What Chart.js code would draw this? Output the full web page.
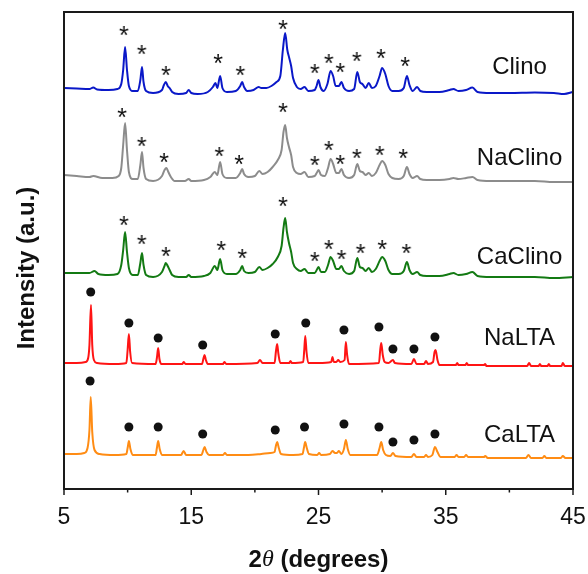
<!DOCTYPE html>
<html>
<head>
<meta charset="utf-8">
<script src="https://cdn.jsdelivr.net/npm/chart.js@4.4.1/dist/chart.umd.min.js"></script>
<style>
  body { margin: 0; background: #fff; }
</style>
</head>
<body>
<canvas id="myChart" width="588" height="574"></canvas>
<script>
// 2theta ticks
const tickValues = [5, 10, 15, 20, 25, 30, 35, 40, 45];
const tickLabels = ['5', '', '15', '', '25', '', '35', '', '45'];

// trace names, colours and vertical offsets (stacked patterns)
const traceNames = ['Clino', 'NaClino', 'CaClino', 'NaLTA', 'CaLTA'];
const traceColors = ['#0a18c8', '#8c8c8c', '#137a13', '#ff1414', '#ff8c14'];
const traceOffsets = [397, 312, 216, 126, 35];
const labelLift = [25, 19, 16, 25, 19];

// intensity above each baseline, [2theta, counts]
const clino = [
  [5.0, 4], [6.0, 3.5], [7.0, 3], [7.3, 4.5], [7.6, 2.5], [8.5, 2], [9.2, 3], [9.5, 8], [9.65, 22], [9.8, 45],
  [9.95, 22], [10.1, 6], [10.4, 1], [10.8, 1], [11.0, 12], [11.13, 25], [11.25, 10], [11.45, 1], [12.0, -1],
  [12.7, 2], [12.85, 7], [13.0, 10], [13.15, 6], [13.3, 4], [13.5, 0], [14.0, -2], [14.6, -1], [14.8, 2],
  [15.0, -1], [15.5, -2], [16.3, 0], [16.7, 5], [16.9, 9], [17.05, 4], [17.27, 16], [17.45, 4], [17.8, 0],
  [18.5, 1], [18.85, 6], [19.0, 10], [19.15, 5], [19.4, 1], [19.9, 2], [20.3, 5], [20.5, 4], [20.9, 4],
  [21.3, 6], [21.7, 10], [22.0, 16], [22.2, 42], [22.38, 59], [22.55, 42], [22.7, 34], [22.85, 26], [23.0, 14],
  [23.3, 5], [23.6, 3], [23.9, 5], [24.2, 1], [24.7, 2], [24.85, 6], [25.0, 12], [25.15, 5], [25.4, 1],
  [25.7, 8], [25.95, 21], [26.15, 16], [26.35, 6], [26.6, 6], [26.8, 10], [27.0, 4], [27.4, 1], [27.8, 3],
  [28.05, 20], [28.25, 10], [28.45, 8], [28.7, 4], [28.95, 9], [29.2, 4], [29.5, 6], [29.8, 16], [30.0, 24],
  [30.25, 18], [30.5, 6], [30.8, 1], [31.3, 1], [31.7, 4], [31.95, 16], [32.15, 7], [32.4, 1], [32.75, 5],
  [33.0, 1], [33.5, 0], [34.5, 0], [35.3, 2], [35.6, 3], [36.0, 1], [36.6, 2], [37.1, 4.5], [37.5, 0],
  [38.5, -1], [40.0, -1], [42.0, -0.5], [43.5, -1], [44.3, -2], [45.0, 0]
];
const naClino = [
  [5.0, 2], [6.0, 1], [7.0, 0], [7.3, 1], [8.0, -1], [8.8, -1], [9.3, 1], [9.5, 9], [9.65, 32], [9.8, 54],
  [9.95, 27], [10.1, 5], [10.4, -2], [10.8, -2], [11.0, 12], [11.13, 25], [11.25, 9], [11.45, -2], [12.0, -4],
  [12.7, 1], [12.9, 7], [13.05, 9], [13.2, 5], [13.4, 0], [13.7, -4], [14.5, -4], [14.8, -2], [15.0, -4],
  [16.0, -3], [16.5, 0], [16.85, 5], [17.05, 2], [17.27, 15], [17.45, 3], [17.8, -1], [18.5, -1], [18.85, 4],
  [19.0, 8], [19.15, 3], [19.5, 0], [20.0, 1], [20.35, 6], [20.6, 3], [21.0, 5], [21.4, 10], [21.8, 17],
  [22.1, 27], [22.25, 45], [22.38, 52], [22.52, 39], [22.68, 30], [22.85, 22], [23.0, 10], [23.3, 4], [23.6, 3],
  [23.9, 5], [24.2, 0], [24.7, 1], [24.9, 5], [25.0, 7], [25.2, 2], [25.5, 1], [25.75, 9], [25.95, 18],
  [26.15, 13], [26.4, 4], [26.6, 4], [26.8, 8], [27.0, 2], [27.4, -1], [27.8, 2], [28.05, 13], [28.25, 6],
  [28.45, 5], [28.7, 2], [28.95, 4], [29.2, 1], [29.5, 4], [29.8, 12], [30.0, 16], [30.25, 12], [30.5, 3],
  [30.8, -1], [31.3, -2], [31.7, 1], [31.95, 10], [32.15, 3], [32.4, -1], [32.75, 1], [33.0, -2], [33.5, -3],
  [34.5, -3], [35.3, -2], [35.6, -1], [36.0, -2], [36.6, -1], [37.1, 0], [37.5, -3], [38.5, -4], [40.0, -4],
  [42.0, -4], [43.5, -5], [45.0, -5]
];
const caClino = [
  [5.0, 0], [6.0, 0], [7.0, 0], [7.4, 2], [7.7, -1], [8.5, -2], [9.2, -1], [9.5, 8], [9.65, 23], [9.8, 41],
  [9.95, 21], [10.1, 5], [10.4, -2], [10.8, -2], [11.0, 10], [11.13, 20], [11.25, 8], [11.45, -2], [12.0, -4],
  [12.7, 1], [12.9, 7], [13.0, 10], [13.15, 7], [13.3, 3], [13.5, -2], [14.0, -4], [14.6, -4], [14.8, -2],
  [15.0, -4], [16.0, -3], [16.5, 0], [16.85, 7], [17.05, 3], [17.27, 14], [17.45, 3], [17.8, -1], [18.5, -1],
  [18.85, 3], [19.0, 7], [19.15, 2], [19.5, 0], [20.0, 1], [20.35, 6], [20.6, 3], [21.0, 5], [21.4, 9],
  [21.8, 16], [22.1, 27], [22.25, 45], [22.38, 55], [22.52, 41], [22.68, 30], [22.85, 21], [23.0, 10], [23.3, 4],
  [23.6, 2], [23.9, 4], [24.2, 0], [24.7, 0], [24.9, 4], [25.0, 6], [25.2, 1], [25.5, 1], [25.75, 8],
  [25.95, 16], [26.15, 12], [26.4, 4], [26.6, 4], [26.8, 7], [27.0, 2], [27.4, -1], [27.8, 2], [28.05, 15],
  [28.25, 6], [28.45, 5], [28.7, 2], [28.95, 5], [29.2, 1], [29.5, 4], [29.8, 12], [30.0, 16], [30.25, 12],
  [30.5, 3], [30.8, -1], [31.3, -1], [31.7, 2], [31.95, 11], [32.15, 3], [32.4, -1], [32.75, 1], [33.0, -2],
  [33.5, -3], [34.5, -3], [35.3, -1], [35.6, 0], [36.0, -2], [36.6, -1], [37.1, 1], [37.5, -3], [38.5, -4],
  [40.0, -4], [42.0, -4], [43.5, -5], [45.0, -4]
];
const naLTA = [
  [5.0, 0], [6.0, 0], [6.7, 1], [6.9, 5], [7.0, 18], [7.12, 58], [7.22, 18], [7.35, 3], [7.6, 0], [9.0, -1],
  [9.9, 0], [10.0, 13], [10.1, 29], [10.2, 11], [10.35, 0], [12.2, -1], [12.3, 5], [12.4, 15], [12.5, 4],
  [12.65, -1], [14.3, -1], [14.4, 1], [14.55, -1], [15.85, -1], [15.95, 4], [16.05, 8], [16.15, 3], [16.3, -1],
  [17.5, -1], [17.6, 1], [17.75, -1], [20.2, 0], [20.4, 3], [20.6, 0], [21.55, 0], [21.65, 11], [21.75, 19],
  [21.85, 9], [22.0, 0], [22.7, 0], [22.8, 2], [22.9, 0], [23.8, 1], [23.88, 13], [23.96, 27], [24.06, 11],
  [24.2, 0], [25.0, 0], [26.0, 1], [26.1, 6], [26.2, 1], [26.4, 1], [26.55, 3], [26.7, 1], [27.05, 3],
  [27.15, 21], [27.25, 8], [27.4, -1], [29.75, 0], [29.85, 13], [29.93, 20], [30.05, 8], [30.2, 1], [30.5, 0],
  [30.85, 3], [31.0, 0], [32.3, -1], [32.5, 4], [32.7, -1], [33.3, -1], [33.45, 2], [33.6, -1], [34.0, 1],
  [34.12, 11], [34.2, 13], [34.35, 3], [34.5, -2], [35.8, -2], [35.9, 0], [36.0, -2], [36.55, -2], [36.65, 0],
  [36.75, -2], [38.0, -2], [38.1, -1], [38.2, -3], [41.4, -3], [41.55, 0], [41.7, -3], [42.3, -3], [42.4, -1],
  [42.5, -3], [43.0, -3], [43.1, -1], [43.2, -3], [44.1, -3], [44.2, 0], [44.35, -3], [45.0, -3]
];
const caLTA = [
  [5.0, 0], [6.0, 0], [6.6, 1], [6.85, 6], [7.0, 24], [7.1, 57], [7.22, 22], [7.4, 4], [7.8, 0], [9.0, -1],
  [9.9, 0], [10.0, 6], [10.1, 13], [10.22, 5], [10.4, -1], [12.2, -1], [12.3, 6], [12.4, 13], [12.52, 5],
  [12.7, -1], [14.2, -1], [14.4, 3], [14.6, -1], [15.8, -1], [15.95, 4], [16.05, 7], [16.2, 2], [16.4, -1],
  [17.5, -1], [17.65, 1], [17.8, -1], [19.5, -1], [20.5, 0], [21.2, 1], [21.55, 2], [21.65, 8], [21.75, 12],
  [21.88, 6], [22.05, 0], [23.0, -1], [23.75, 0], [23.85, 6], [23.95, 12], [24.08, 6], [24.25, 0], [24.9, -1],
  [25.05, 1], [25.2, -1], [25.9, 0], [26.1, 3], [26.3, 1], [26.45, 1], [26.6, 3], [26.8, 0], [27.0, 5],
  [27.15, 14], [27.3, 5], [27.5, -1], [29.6, -1], [29.8, 6], [29.93, 12], [30.08, 4], [30.3, -1], [30.65, -2],
  [30.85, 1], [31.05, -2], [32.3, -3], [32.5, 0], [32.7, -3], [33.3, -3], [33.45, -1], [33.6, -3], [33.95, -1],
  [34.15, 7], [34.35, 2], [34.6, -3], [35.7, -3], [35.85, -1], [36.0, -3], [36.45, -3], [36.6, -1], [36.75, -3],
  [38.0, -3], [38.1, -2], [38.3, -4], [41.3, -4], [41.5, -1], [41.7, -4], [42.6, -4], [42.75, -2], [42.9, -4],
  [44.05, -4], [44.2, -2], [44.4, -4], [45.0, -4]
];
const traces = [clino, naClino, caClino, naLTA, caLTA];

// reflection markers: * clinoptilolite, dots LTA  [2theta, height above baseline]
const clinoStars = [[9.7, 61], [11.1, 42], [13.0, 21], [17.1, 33], [18.85, 21], [22.2, 67], [24.7, 23], [25.8, 33], [26.7, 24], [28.0, 35], [29.9, 38], [31.8, 30]];
const naClinoStars = [[9.55, 64], [11.1, 35], [12.85, 19], [17.2, 25], [18.75, 17], [22.2, 69], [24.7, 16], [25.8, 31], [26.7, 17], [28.0, 23], [29.8, 26], [31.65, 23]];
const caClinoStars = [[9.7, 52], [11.1, 33], [13.0, 21], [17.35, 27], [19.0, 19], [22.2, 71], [24.7, 16], [25.8, 28], [26.8, 18], [28.3, 24], [30.0, 28], [31.9, 24]];
const naLTADots = [[7.1, 71], [10.1, 40], [12.4, 25], [15.9, 18], [21.6, 29], [24.0, 40], [27.0, 33], [29.75, 36], [30.85, 14], [32.5, 14], [34.15, 26]];
const caLTADots = [[7.05, 73], [10.1, 27], [12.4, 27], [15.9, 20], [21.6, 24], [23.9, 27], [27.0, 30], [29.75, 27], [30.85, 12], [32.5, 14], [34.15, 20]];
const markerSets = [clinoStars, naClinoStars, caClinoStars, naLTADots, caLTADots];

function shift(points, off) {
    return points.map(function (p) { return { x: p[0], y: p[1] + off }; });
}

// asterisk glyph used as point style
function makeStar() {
    var c = document.createElement('canvas');
    c.width = 18;
    c.height = 18;
    var g = c.getContext('2d');
    g.font = '25px Arial';
    g.textAlign = 'center';
    g.textBaseline = 'alphabetic';
    var m = g.measureText('*');
    var h = m.actualBoundingBoxAscent + m.actualBoundingBoxDescent;
    g.fillStyle = '#111';
    g.fillText('*', 9, 9 + m.actualBoundingBoxAscent - h / 2);
    return c;
}
const star = makeStar();

const datasets = [];
traces.forEach(function (t, i) {
    datasets.push({
        type: 'line',
        label: traceNames[i],
        data: shift(t, traceOffsets[i]),
        borderColor: traceColors[i],
        borderWidth: 2,
        pointRadius: 0,
        cubicInterpolationMode: 'monotone'
    });
});
markerSets.forEach(function (m, i) {
    datasets.push({
        type: 'scatter',
        label: traceNames[i] + ' peaks',
        data: shift(m, traceOffsets[i]),
        pointStyle: i < 3 ? star : 'circle',
        pointRadius: 4.5,
        backgroundColor: '#111',
        borderWidth: 0
    });
});

// frame, tick marks, trace names and axis titles
const decorations = {
    id: 'decorations',
    afterDatasetsDraw: function (chart) {
        var ctx = chart.ctx;
        var a = chart.chartArea;
        var xs = chart.scales.x;
        var ys = chart.scales.y;
        ctx.save();

        ctx.strokeStyle = '#1a1a1a';
        ctx.lineWidth = 2;
        ctx.strokeRect(a.left, a.top, a.right - a.left, a.bottom - a.top);

        ctx.lineWidth = 1.5;
        tickValues.forEach(function (v, i) {
            var px = xs.getPixelForValue(v);
            var len = tickLabels[i] ? 6 : 3.5;
            ctx.beginPath();
            ctx.moveTo(px, a.bottom);
            ctx.lineTo(px, a.bottom + len);
            ctx.stroke();
        });

        ctx.fillStyle = '#111';
        ctx.font = '24px Arial';
        ctx.textAlign = 'center';
        ctx.textBaseline = 'middle';
        traceNames.forEach(function (n, i) {
            ctx.fillText(n, xs.getPixelForValue(40.8), ys.getPixelForValue(traceOffsets[i] + labelLift[i]));
        });

        // x title: 2θ (degrees)
        var parts = [['2', 'bold 24px Arial'], ['\u03b8', 'italic 24px "Liberation Serif"'], [' (degrees)', 'bold 24px Arial']];
        var total = 0;
        parts.forEach(function (p) { ctx.font = p[1]; p.push(ctx.measureText(p[0]).width); total += p[2]; });
        var x = (a.left + a.right) / 2 - total / 2;
        ctx.textAlign = 'left';
        parts.forEach(function (p) { ctx.font = p[1]; ctx.fillText(p[0], x, 560); x += p[2]; });

        // y title
        ctx.translate(27, 268);
        ctx.rotate(-Math.PI / 2);
        ctx.textAlign = 'center';
        ctx.font = 'bold 24px Arial';
        ctx.fillText('Intensity (a.u.)', 0, 0);
        ctx.restore();
    }
};

const config = {
    data: { datasets: datasets },
    options: {
        responsive: false,
        animation: false,
        devicePixelRatio: 1,
        layout: { padding: { left: 64, right: 15, top: 12, bottom: 0 } },
        plugins: {
            legend: { display: false },
            tooltip: { enabled: false }
        },
        scales: {
            x: {
                type: 'linear',
                min: 5,
                max: 45,
                afterFit: function (s) {
                    s.height = 85;
                    s.paddingLeft = 0;
                    s.paddingRight = 0;
                },
                afterBuildTicks: function (s) { s.ticks = tickValues.map(function (v) { return { value: v }; }); },
                grid: { display: true, drawOnChartArea: false, drawTicks: false },
                border: { display: false },
                ticks: {
                    autoSkip: false,
                    maxRotation: 0,
                    padding: 15,
                    color: '#111',
                    font: { family: 'Arial', size: 23 },
                    callback: function (v) { return tickLabels[tickValues.indexOf(v)]; }
                }
            },
            y: {
                type: 'linear',
                display: false,
                min: 0,
                max: 477
            }
        }
    },
    plugins: [decorations]
};

const ctx = document.getElementById('myChart').getContext('2d');
new Chart(ctx, config);
</script>
</body>
</html>
